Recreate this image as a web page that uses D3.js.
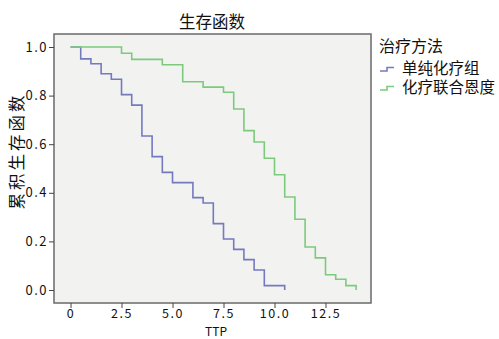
<!DOCTYPE html>
<html>
<head>
<meta charset="utf-8">
<script src="https://cdn.jsdelivr.net/npm/d3@7"></script>
<style>
  body { margin: 0; background: #fff; }
  text { font-family: "Noto Sans CJK SC", "Noto Sans", sans-serif; fill: #111; }
</style>
</head>
<body>
<div id="chart"></div>
<script>
// Kaplan-Meier step data
const groups = ['单纯化疗组', '化疗联合恩度'];
const timesA = [0, 0.5, 1, 1.5, 2, 2.5, 3, 3.5, 4, 4.5, 5, 6, 6.5, 7, 7.5, 8, 8.5, 9, 9.5, 10.5];
const survA = [1, 0.951, 0.931, 0.89, 0.867, 0.804, 0.761, 0.634, 0.549, 0.484, 0.442, 0.38, 0.358, 0.273, 0.21, 0.167, 0.125, 0.082, 0.018, 0];
const timesB = [0, 2.5, 3, 4.5, 5.5, 6.5, 7.5, 8, 8.5, 9, 9.5, 10, 10.5, 11, 11.5, 12, 12.5, 13, 13.5, 14];
const survB = [1, 0.974, 0.949, 0.927, 0.857, 0.835, 0.814, 0.745, 0.656, 0.609, 0.542, 0.474, 0.383, 0.291, 0.177, 0.132, 0.063, 0.044, 0.018, 0];
const xTicks = [0, 2.5, 5, 7.5, 10, 12.5];
const yTicks = [0, 0.2, 0.4, 0.6, 0.8, 1.0];
const colors = ['#7579c0', '#7ccb7c'];

const width = 499;
const height = 339;
const plot = { left: 54, top: 34, right: 371, bottom: 303 };

const svg = d3.select('#chart').append('svg')
  .attr('width', width)
  .attr('height', height);

const x = d3.scaleLinear()
  .domain([-0.81, 14.73])
  .range([plot.left, plot.right]);

const y = d3.scaleLinear()
  .domain([-0.0535, 1.0535])
  .range([plot.bottom, plot.top]);

// plot background + frame
svg.append('rect')
  .attr('x', plot.left)
  .attr('y', plot.top)
  .attr('width', plot.right - plot.left)
  .attr('height', plot.bottom - plot.top)
  .attr('fill', '#f2f2f1')
  .attr('stroke', '#6a6a6a')
  .attr('stroke-width', 1.5);

// axes
const xAxis = svg.append('g')
  .attr('transform', `translate(0,${plot.bottom})`)
  .call(d3.axisBottom(x).tickValues(xTicks).tickSize(5).tickSizeOuter(0)
    .tickFormat(d => d === 0 ? '0' : d3.format('.1f')(d)));
xAxis.select('.domain').remove();
xAxis.selectAll('line').attr('stroke', '#444');
xAxis.selectAll('text').attr('font-size', 12.5).attr('letter-spacing', 1.5).attr('y', 6);

const yAxis = svg.append('g')
  .attr('transform', `translate(${plot.left},0)`)
  .call(d3.axisLeft(y).tickValues(yTicks).tickSize(5).tickSizeOuter(0)
    .tickFormat(d3.format('.1f')));
yAxis.select('.domain').remove();
yAxis.selectAll('line').attr('stroke', '#444');
yAxis.selectAll('text').attr('font-size', 13).attr('letter-spacing', 1.5).attr('x', -6);

// survival curves
const line = d3.line()
  .x(d => x(d[0]))
  .y(d => y(d[1]))
  .curve(d3.curveStepAfter);

const series = [d3.zip(timesA, survA), d3.zip(timesB, survB)];

svg.selectAll('.curve')
  .data(series)
  .enter().append('path')
  .attr('class', 'curve')
  .attr('d', line)
  .attr('fill', 'none')
  .attr('stroke', (d, i) => colors[i])
  .attr('stroke-width', 1.6);

// titles
svg.append('text')
  .attr('x', 212)
  .attr('y', 28)
  .attr('text-anchor', 'middle')
  .attr('font-size', 16.5)
  .text('生存函数');

svg.append('text')
  .attr('x', 216)
  .attr('y', 335.5)
  .attr('text-anchor', 'middle')
  .attr('font-size', 12)
  .text('TTP');

svg.append('text')
  .attr('transform', 'translate(23,151) rotate(-90)')
  .attr('text-anchor', 'middle')
  .attr('font-size', 16.5)
  .attr('letter-spacing', 3)
  .text('累积生存函数');

// legend
const legend = svg.append('g');
legend.append('text')
  .attr('x', 379)
  .attr('y', 52)
  .attr('font-size', 16)
  .text('治疗方法');

groups.forEach((g, i) => {
  const ly = 71 + i * 19;
  legend.append('path')
    .attr('d', `M380,${ly}H387V${ly - 3.5}H394`)
    .attr('fill', 'none')
    .attr('stroke', colors[i])
    .attr('stroke-width', 1.6);
  legend.append('text')
    .attr('x', 402)
    .attr('y', ly + 3)
    .attr('font-size', 15.5)
    .text(g);
});
</script>
</body>
</html>
